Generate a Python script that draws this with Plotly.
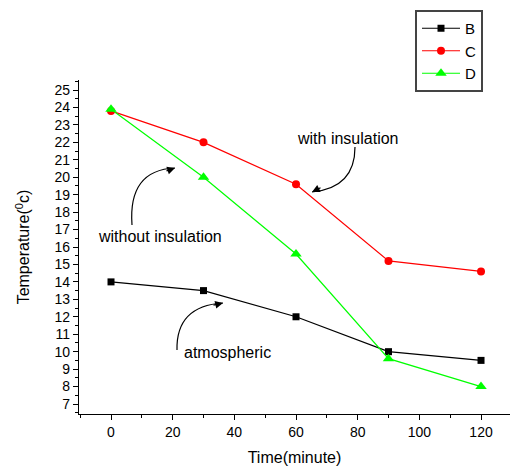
import plotly.graph_objects as go

# ---- data ----
time_min = [0, 30, 60, 90, 120]
temp_B = [14.0, 13.5, 12.0, 10.0, 9.5]
temp_C = [23.8, 22.0, 19.6, 15.2, 14.6]
temp_D = [23.9, 20.0, 15.6, 9.6, 8.0]
series_names = ["B", "C", "D"]

# ---- layout geometry ----
W, H = 510, 466
L, R, T, B = 79, 510, 80, 414
XR = [-10.38, 129.4]
YR = [6.427, 25.573]
FONT = "Arial, Liberation Sans, sans-serif"


def px2d(px, py):
    x = XR[0] + (px - L) / (R - L) * (XR[1] - XR[0])
    y = YR[1] - (py - T) / (B - T) * (YR[1] - YR[0])
    return x, y


fig = go.Figure()
fig.add_trace(go.Scatter(x=time_min, y=temp_B, name=series_names[0], mode="lines+markers",
                         line=dict(color="black", width=1.2),
                         marker=dict(symbol="square", size=7, color="black")))
fig.add_trace(go.Scatter(x=time_min, y=temp_C, name=series_names[1], mode="lines+markers",
                         line=dict(color="#ff0000", width=1.2),
                         marker=dict(symbol="circle", size=8, color="#ff0000")))
fig.add_trace(go.Scatter(x=time_min, y=temp_D, name=series_names[2], mode="lines+markers",
                         line=dict(color="#00ff00", width=1.2),
                         marker=dict(symbol="triangle-up", size=10, color="#00ff00")))

# curved arrows (decorative)
curves = [
    # (start, control, end, arrow tail offset)
    ((132, 225), (128, 170), (175, 168), (-12, 4)),
    ((177, 350), (176, 306), (223, 303), (-13, 3)),
    ((355, 147), (355, 188), (312, 192), (12, -6)),
]
shapes = []
annotations = []
for s, c, e, off in curves:
    sx, sy = px2d(*s)
    cx, cy = px2d(*c)
    ex, ey = px2d(*e)
    shapes.append(dict(type="path", xref="x", yref="y",
                       path=f"M {sx},{sy} Q {cx},{cy} {ex},{ey}",
                       line=dict(color="black", width=1.2)))
    annotations.append(dict(x=ex, y=ey, xref="x", yref="y", ax=off[0], ay=off[1],
                            text=" ", showarrow=True, arrowhead=2, arrowsize=1.3,
                            arrowwidth=1.2, arrowcolor="black", standoff=0))

labels = [("without insulation", 160, 236), ("atmospheric", 227, 352), ("with insulation", 348, 138)]
for txt, px, py in labels:
    x, y = px2d(px, py)
    annotations.append(dict(x=x, y=y, xref="x", yref="y", text=txt, showarrow=False,
                            font=dict(family=FONT, size=16, color="black")))

fig.update_layout(
    width=W, height=H,
    margin=dict(l=L, r=W - R, t=T, b=H - B, autoexpand=False),
    paper_bgcolor="white", plot_bgcolor="white",
    font=dict(family=FONT, size=14, color="black"),
    shapes=shapes, annotations=annotations,
    legend=dict(x=(415 - L) / (R - L), y=1 + (T - 10) / (B - T), xanchor="left", yanchor="top",
                bordercolor="#444", borderwidth=2, bgcolor="white",
                font=dict(family=FONT, size=15, color="black"),
                itemwidth=38, tracegroupgap=0),
    showlegend=True,
)
fig.update_xaxes(range=XR, showgrid=False, zeroline=False, showline=True, linecolor="black",
                 linewidth=1.2, ticks="outside", ticklen=5, tickcolor="black", tick0=0, dtick=20,
                 minor=dict(ticks="outside", ticklen=3, dtick=10, tick0=0, tickcolor="black"),
                 tickfont=dict(size=14), automargin=False,
                 title=dict(text="Time(minute)", font=dict(size=16), standoff=12))
fig.update_yaxes(range=YR, showgrid=False, zeroline=False, showline=True, linecolor="black",
                 linewidth=1.2, ticks="outside", ticklen=5, tickcolor="black", tick0=0, dtick=1,
                 minor=dict(ticks="outside", ticklen=3, dtick=0.5, tick0=0, tickcolor="black"),
                 tickfont=dict(size=14), automargin=False,
                 title=dict(text="Temperature(<sup>0</sup>c)", font=dict(size=16), standoff=20))

fig.write_html("out.html", config={"displayModeBar": False},
               post_script="document.body.style.margin='0px';")
